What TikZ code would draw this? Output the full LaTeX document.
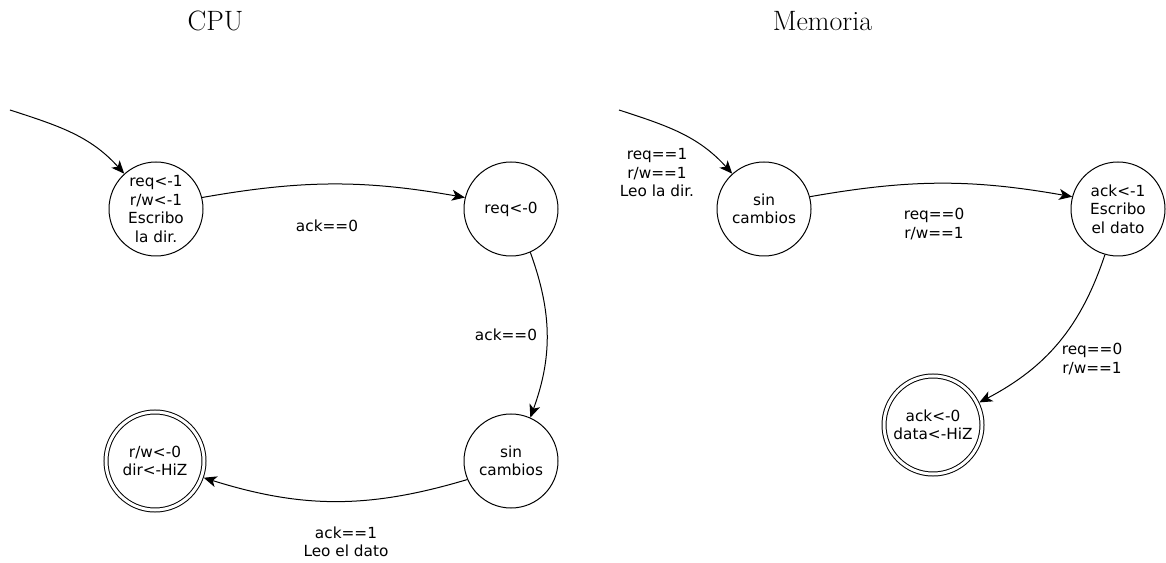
\documentclass[tikz,border=0pt]{standalone}
\usepackage{fontspec}
\newfontfamily\dvsans{DejaVu Sans}
\usetikzlibrary{arrows.meta}
\tikzset{
  state/.style={circle, draw, line width=1pt, minimum size=94pt, inner sep=0pt, align=center,
    font=\dvsans\fontsize{15.3}{18.5}\selectfont},
  final/.style={state, double, double distance=3pt, minimum size=98pt, outer sep=2.5pt},
  lbl/.style={align=center, inner sep=0pt, font=\dvsans\fontsize{15.3}{18.5}\selectfont},
  ttl/.style={inner sep=0pt, font=\fontsize{28}{34}\selectfont},
  tr/.style={-{Stealth[length=13pt,width=11pt,inset=3.5pt]}, line width=1pt},
}
\begin{document}
\begin{tikzpicture}[x=1pt,y=1pt]
\path[use as bounding box] (0,0) rectangle (1166,562);
% titles
\node[ttl] (tcpu) at (215.5,541) {CPU};
\node[ttl] (tmem) at (822.5,541) {Memoria};
% CPU states
\node[state] (A) at (156,353) {req<-1\\r/w<-1\\Escribo\\la dir.};
\node[state] (B) at (511,353) {req<-0};
\node[state] (C) at (511,101) {sin\\cambios};
\node[final] (D) at (155,101) {r/w<-0\\dir<-HiZ};
% Memoria states
\node[state] (E) at (764,353) {sin\\cambios};
\node[state] (F) at (1118,353) {ack<-1\\Escribo\\el dato};
\node[final] (G) at (933,137) {ack<-0\\data<-HiZ};
% initial points
\coordinate (i1) at (10,452);
\coordinate (i2) at (619,452);
% connectors
\draw[tr] (i1) to[out=-18, in=132] (A.132);
\draw[tr] (A.14) to[bend left=10] (B.166);
\draw[tr] (B.-66) to[bend left=20] (C.66);
\draw[tr] (C.-157) to[bend left=17] (D.-19);
\draw[tr] (i2) to[out=-18, in=132] (E.132);
\draw[tr] (E.15) to[bend left=10] (F.165);
\draw[tr] (F.-106) to[bend left=22] (G.26);
% labels
\node[lbl] (lAB) at (327,336) {ack==0};
\node[lbl] (lBC) at (506,227) {ack==0};
\node[lbl] (lCD) at (346,20) {ack==1\\Leo el dato};
\node[lbl] (lIn) at (657,389) {req==1\\r/w==1\\Leo la dir.};
\node[lbl] (lEF) at (934,338) {req==0\\r/w==1};
\node[lbl] (lFG) at (1092,203) {req==0\\r/w==1};
\end{tikzpicture}
\end{document}
